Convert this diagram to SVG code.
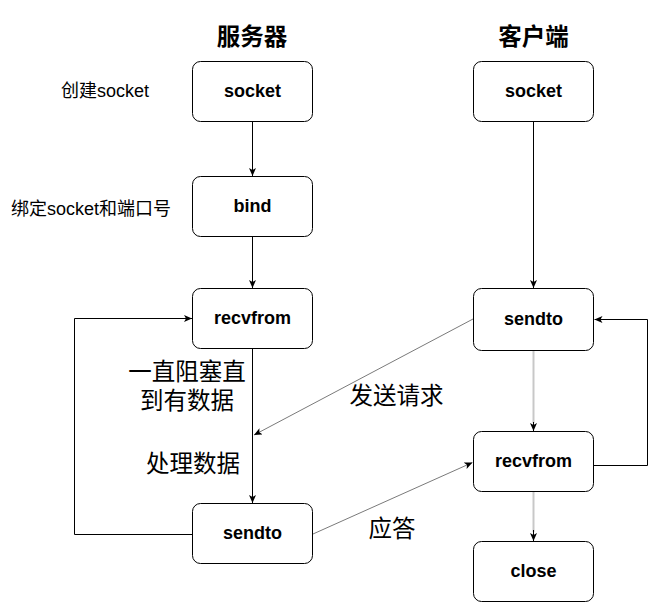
<svg xmlns="http://www.w3.org/2000/svg" width="669" height="613" viewBox="0 0 669 613">
<style>
.box{fill:#fff;stroke:#000;stroke-width:1}
.bl{font-family:"Liberation Sans","Noto Sans CJK SC",sans-serif;font-weight:bold;font-size:18px;text-anchor:middle;fill:#000}
.ti{font-family:"Liberation Sans","Noto Sans CJK SC",sans-serif;font-weight:bold;font-size:23.5px;text-anchor:middle;fill:#000}
.sm{font-family:"Liberation Sans","Noto Sans CJK SC",sans-serif;font-size:18px;text-anchor:middle;fill:#000}
.big{font-family:"Liberation Sans","Noto Sans CJK SC",sans-serif;font-size:23.5px;text-anchor:middle;fill:#000}
.ln{fill:none;stroke:#000;stroke-width:1}
.lg{fill:none;stroke:#c8c8c8;stroke-width:2}
.dg{fill:none;stroke:#7a7a7a;stroke-width:1}
</style>
<defs>
<marker id="arr" viewBox="0 0 8 7" refX="8" refY="3.5" markerWidth="8" markerHeight="7" orient="auto" markerUnits="userSpaceOnUse">
<path d="M0,0 L8,3.5 L0,7 L2,3.5 Z" fill="#000"/>
</marker>
</defs>
<rect width="669" height="613" fill="#fff"/>
<g id="titles">
<text class="ti" x="252" y="45">服务器</text>
<text class="ti" x="533.5" y="45">客户端</text>
</g>
<g id="notes">
<text class="sm" x="105" y="97">创建socket</text>
<text class="sm" x="91" y="215">绑定socket和端口号</text>
<text class="big" x="187" y="380">一直阻塞直</text>
<text class="big" x="187" y="409">到有数据</text>
<text class="big" x="193" y="472">处理数据</text>
<text class="big" x="396.5" y="403.5">发送请求</text>
<text class="big" x="392" y="537">应答</text>
</g>
<g id="connectors">
<path class="ln" d="M252.5,121.5 V176" marker-end="url(#arr)"/>
<path class="ln" d="M252.5,236.5 V288" marker-end="url(#arr)"/>
<path class="ln" d="M252.5,348.5 V503" marker-end="url(#arr)"/>
<path class="ln" d="M192,534.5 H74.5 V318.5 H192" marker-end="url(#arr)"/>
<path class="ln" d="M533.5,121.5 V288" marker-end="url(#arr)"/>
<path class="lg" d="M533.5,350 V423"/>
<path class="ln" d="M533.5,422 V431" marker-end="url(#arr)"/>
<path class="lg" d="M533.5,492 V532"/>
<path class="ln" d="M533.5,530 V541" marker-end="url(#arr)"/>
<path class="ln" d="M593.5,465.5 H647.5 V319.5 H594.5" marker-end="url(#arr)"/>
<path class="dg" d="M473,319 L254,435" marker-end="url(#arr)"/>
<path class="dg" d="M313,534 L472.5,462.5" marker-end="url(#arr)"/>
</g>
<g id="s_socket">
<rect class="box" x="192.5" y="61.5" width="120" height="60" rx="8"/>
<text class="bl" x="252.5" y="97">socket</text>
</g>
<g id="s_bind">
<rect class="box" x="192.5" y="176.5" width="120" height="60" rx="8"/>
<text class="bl" x="252.5" y="212">bind</text>
</g>
<g id="s_recvfrom">
<rect class="box" x="192.5" y="288.5" width="120" height="60" rx="8"/>
<text class="bl" x="252.5" y="324">recvfrom</text>
</g>
<g id="s_sendto">
<rect class="box" x="192.5" y="503.5" width="120" height="60" rx="8"/>
<text class="bl" x="252.5" y="539">sendto</text>
</g>
<g id="c_socket">
<rect class="box" x="473.5" y="61.5" width="120" height="60" rx="8"/>
<text class="bl" x="533.5" y="97">socket</text>
</g>
<g id="c_sendto">
<rect class="box" x="473.5" y="288.5" width="120" height="62" rx="8"/>
<text class="bl" x="533.5" y="325">sendto</text>
</g>
<g id="c_recvfrom">
<rect class="box" x="473.5" y="431.5" width="120" height="60" rx="8"/>
<text class="bl" x="533.5" y="467">recvfrom</text>
</g>
<g id="c_close">
<rect class="box" x="473.5" y="541.5" width="120" height="60" rx="8"/>
<text class="bl" x="533.5" y="577">close</text>
</g>
</svg>
